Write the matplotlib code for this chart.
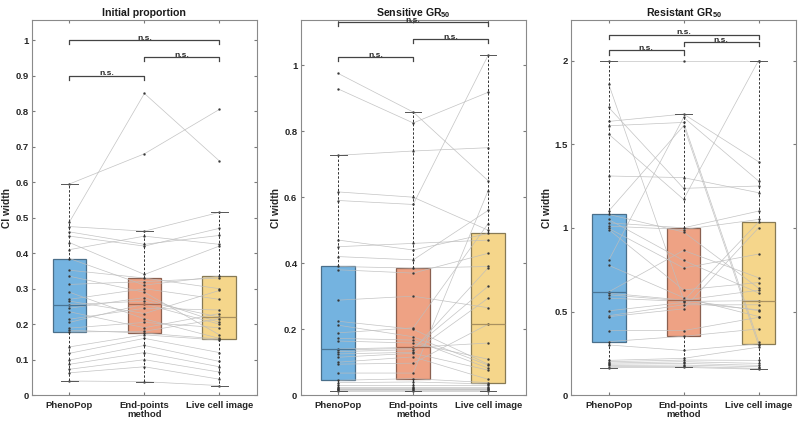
import numpy as np
import matplotlib.pyplot as plt

plt.rcParams['font.family'] = ['Liberation Sans', 'DejaVu Sans']
plt.rcParams['mathtext.fontset'] = 'custom'
plt.rcParams['mathtext.rm'] = 'Liberation Sans:bold'
plt.rcParams['mathtext.bf'] = 'Liberation Sans:bold'

methods = ['PhenoPop', 'End-points\nmethod', 'Live cell image']
titles = ['Initial proportion', r'Sensitive GR$_{\mathbf{50}}$', r'Resistant GR$_{\mathbf{50}}$']

# Initial proportion: one entry per sample, same order in each method
init_pheno = [0.595, 0.488, 0.475, 0.46, 0.448, 0.43, 0.41, 0.385, 0.352, 0.335,
              0.312, 0.29, 0.27, 0.265, 0.255, 0.245, 0.235, 0.214, 0.205, 0.189,
              0.183, 0.178, 0.136, 0.118, 0.099, 0.087, 0.073, 0.063, 0.04]
init_endpt = [0.68, 0.85, 0.462, 0.425, 0.42, 0.34, 0.448, 0.31, 0.33, 0.29,
              0.32, 0.215, 0.3, 0.23, 0.265, 0.275, 0.19, 0.245, 0.257, 0.205,
              0.175, 0.18, 0.17, 0.16, 0.14, 0.12, 0.1, 0.08, 0.038]
init_live = [0.805, 0.66, 0.515, 0.45, 0.47, 0.42, 0.425, 0.335, 0.30, 0.17,
             0.33, 0.16, 0.27, 0.295, 0.22, 0.205, 0.23, 0.24, 0.2, 0.19,
             0.158, 0.215, 0.155, 0.12, 0.095, 0.08, 0.065, 0.045, 0.027]

# Sensitive GR50
sens_pheno = [0.975, 0.928, 0.727, 0.616, 0.59, 0.47, 0.45, 0.42, 0.39, 0.38,
              0.288, 0.224, 0.212, 0.189, 0.172, 0.164, 0.14, 0.137, 0.132, 0.125,
              0.115, 0.1, 0.094, 0.067, 0.045, 0.038, 0.03, 0.025, 0.022, 0.02,
              0.018, 0.015, 0.012]
sens_endpt = [0.858, 0.825, 0.74, 0.6, 0.578, 0.44, 0.46, 0.41, 0.385, 0.37,
              0.3, 0.2, 0.177, 0.204, 0.167, 0.158, 0.145, 0.142, 0.138, 0.13,
              0.127, 0.116, 0.097, 0.067, 0.05, 0.04, 0.03, 0.025, 0.022, 0.02,
              0.018, 0.015, 0.012]
sens_live = [0.65, 0.918, 0.75, 0.5, 1.03, 0.49, 0.47, 0.56, 0.39, 0.43,
             0.265, 0.094, 0.091, 0.52, 0.082, 0.109, 0.158, 0.33, 0.386, 0.294,
             0.076, 0.048, 0.215, 0.62, 0.038, 0.034, 0.03, 0.025, 0.022, 0.02,
             0.018, 0.015, 0.012]

# Resistant GR50
res_pheno = [2.0, 1.86, 1.72, 1.636, 1.61, 1.56, 1.31, 1.1, 1.08, 1.05,
             1.03, 1.01, 0.997, 0.99, 0.805, 0.776, 0.617, 0.61, 0.6, 0.58,
             0.504, 0.475, 0.469, 0.386, 0.32, 0.3, 0.208, 0.2, 0.192, 0.185,
             0.178, 0.17, 0.164]
res_endpt = [2.0, 0.57, 1.236, 1.68, 1.63, 1.17, 1.30, 1.61, 0.975, 0.805,
             1.0, 0.99, 0.76, 0.629, 1.66, 0.583, 0.865, 0.568, 0.563, 0.56,
             0.554, 0.54, 0.516, 0.386, 0.352, 0.267, 0.22, 0.21, 0.2, 0.19,
             0.18, 0.172, 0.166]
res_live = [2.0, 0.505, 1.25, 1.395, 0.32, 2.0, 1.21, 0.3, 0.64, 0.611,
            1.1, 1.05, 0.843, 0.673, 1.28, 0.47, 0.702, 0.627, 1.035, 0.565,
            0.51, 0.54, 1.0, 0.465, 0.396, 0.307, 0.287, 0.208, 0.19, 0.178,
            0.17, 0.16, 0.155]

panels = [
    (init_pheno, init_endpt, init_live),
    (sens_pheno, sens_endpt, sens_live),
    (res_pheno, res_endpt, res_live),
]
ylims = [(0, 1.056), (0, 1.136), (0, 2.24)]
yticks = [np.arange(0, 1.01, 0.1), np.arange(0, 1.01, 0.2), np.arange(0, 2.01, 0.5)]
# significance brackets: (x1, x2, height)
brackets = [
    [(1, 2, 0.90), (2, 3, 0.952), (1, 3, 1.0)],
    [(1, 2, 1.024), (2, 3, 1.079), (1, 3, 1.13)],
    [(1, 2, 2.06), (2, 3, 2.11), (1, 3, 2.155)],
]

box_colors = ['#74B3E0', '#EEA284', '#F5D68B']
edge_colors = ['#4A6F8A', '#8A6050', '#877A55']
median_colors = ['#4A7596', '#A86A52', '#A89060']

fig = plt.figure(figsize=(8, 4.24), dpi=100)
lefts = [0.040, 0.376, 0.714]

for i, (vals, title) in enumerate(zip(panels, titles)):
    ax = fig.add_axes([lefts[i], 0.068, 0.281, 0.884])
    data = np.array(vals)

    bp = ax.boxplot(list(data), positions=[1, 2, 3], widths=0.45, whis=1.5,
                    showfliers=False, patch_artist=True, capwidths=0.22,
                    zorder=1,
                    whiskerprops=dict(color='#333333', linestyle=(0, (2.5, 1.8)), linewidth=0.7),
                    capprops=dict(color='#555555', linewidth=0.7),
                    medianprops=dict(linewidth=0.9))
    for j, box in enumerate(bp['boxes']):
        box.set_facecolor(box_colors[j])
        box.set_edgecolor(edge_colors[j])
        box.set_linewidth(0.9)
        bp['medians'][j].set_color(median_colors[j])
        bp['medians'][j].set_zorder(3)
    for w in bp['whiskers']:
        w.set_zorder(3)
    for c in bp['caps']:
        c.set_zorder(3)

    # paired lines per sample
    ax.plot([1, 2, 3], data, color='#bdbdbd', linewidth=0.5, alpha=0.9,
            marker='.', markersize=1.5, markerfacecolor='#333333',
            markeredgecolor='#333333', zorder=2)

    lo, hi = ylims[i]
    tick_h = (hi - lo) * 0.011
    for x1, x2, y in brackets[i]:
        ax.plot([x1, x1, x2, x2], [y - tick_h, y, y, y - tick_h],
                color='#444444', linewidth=0.9, zorder=4)
        ax.text((x1 + x2) / 2, y + tick_h * 0.1, 'n.s.', ha='center', va='baseline',
                fontsize=6, fontweight='bold', color='#262626')

    ax.set_xlim(0.5, 3.5)
    ax.set_ylim(lo, hi)
    ax.set_yticks(yticks[i])
    ax.set_yticklabels(['%g' % round(t, 2) for t in yticks[i]])
    ax.set_xticks([1, 2, 3])
    ax.set_xticklabels(methods, linespacing=1.0)
    ax.tick_params(direction='in', top=True, right=True, length=2.5,
                   color='#7a7a7a', labelsize=6.8, labelcolor='#262626')
    ax.tick_params(axis='y', pad=2.5)
    ax.tick_params(axis='x', pad=4)
    for lab in ax.get_xticklabels() + ax.get_yticklabels():
        lab.set_fontweight('bold')
    for sp in ax.spines.values():
        sp.set_color('#8a8a8a')
        sp.set_linewidth(0.8)
    ax.set_ylabel('CI width', fontsize=7.4, fontweight='bold', color='#262626', labelpad=2)
    ax.set_title(title, fontsize=7.6, fontweight='bold', color='#1a1a1a', pad=3)

fig.savefig('out.png', dpi=100)
